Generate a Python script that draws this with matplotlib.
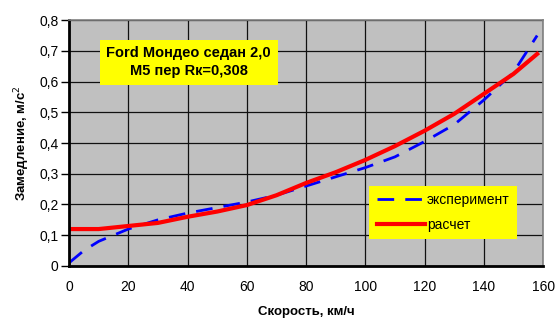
import matplotlib
matplotlib.use("Agg")
import matplotlib.pyplot as plt
from matplotlib.ticker import FuncFormatter

plt.rcParams['font.family'] = ['Liberation Sans', 'DejaVu Sans']

# скорость, км/ч
v_exp = [0, 5, 10, 15, 20, 30, 40, 50, 60, 70, 80, 90, 100, 110, 120, 130, 140, 150, 158]
a_exp = [0.01, 0.05, 0.08, 0.10, 0.12, 0.15, 0.172, 0.19, 0.208, 0.23, 0.26, 0.29, 0.32, 0.355, 0.405, 0.46, 0.54, 0.63, 0.75]

v_calc = [0, 10, 20, 30, 40, 50, 60, 70, 80, 90, 100, 110, 120, 130, 140, 150, 158]
a_calc = [0.12, 0.12, 0.13, 0.14, 0.16, 0.177, 0.198, 0.23, 0.27, 0.305, 0.345, 0.39, 0.44, 0.495, 0.56, 0.625, 0.69]

xticks = list(range(0, 161, 20))
yticks = [0, 0.1, 0.2, 0.3, 0.4, 0.5, 0.6, 0.7, 0.8]

fig = plt.figure(figsize=(5.57, 3.2), dpi=100)
ax = fig.add_axes([0.124, 0.169, 0.851, 0.768])
ax.set_facecolor('#c0c0c0')

ax.plot(v_exp, a_exp, color='blue', lw=2, dashes=(6, 4), label='эксперимент')
ax.plot(v_calc, a_calc, color='red', lw=3, label='расчет')

ax.set_xlim(0, 160)
ax.set_ylim(0, 0.8)
ax.set_xticks(xticks)
ax.set_yticks(yticks)
ax.yaxis.set_major_formatter(FuncFormatter(lambda y, p: '0' if y == 0 else f'{y:.1f}'.replace('.', ',')))
ax.tick_params(axis='x', length=0, pad=10, labelsize=10)
ax.tick_params(axis='y', length=6, width=1, direction='out', pad=1.5, labelsize=10)
ax.grid(True, color='#111111', lw=0.9)
ax.set_axisbelow(True)

for s in ('left', 'bottom'):
    ax.spines[s].set_linewidth(2)
    ax.spines[s].set_color('black')
for s in ('top', 'right'):
    ax.spines[s].set_linewidth(1.2)
    ax.spines[s].set_color('#808080')

ax.set_xlabel('Скорость, км/ч', fontweight='bold', fontsize=9.5, labelpad=9)
ax.set_ylabel('Замедление, м/с$^2$', fontweight='bold', fontsize=9.5, labelpad=5)

ax.text(40.4, 0.663, 'Ford Мондео седан 2,0\nM5 пер Rк=0,308', ha='center', va='center',
        fontsize=10.5, fontweight='bold', linespacing=1.35,
        bbox=dict(boxstyle='square,pad=0.45', fc='yellow', ec='none'))

leg = ax.legend(loc='lower right', bbox_to_anchor=(0.96, 0.08), fontsize=10,
                facecolor='yellow', edgecolor='none', framealpha=1, fancybox=False,
                handlelength=3.5, handletextpad=0.1, borderpad=0.55, labelspacing=0.75)

fig.savefig('out.png', dpi=100)
